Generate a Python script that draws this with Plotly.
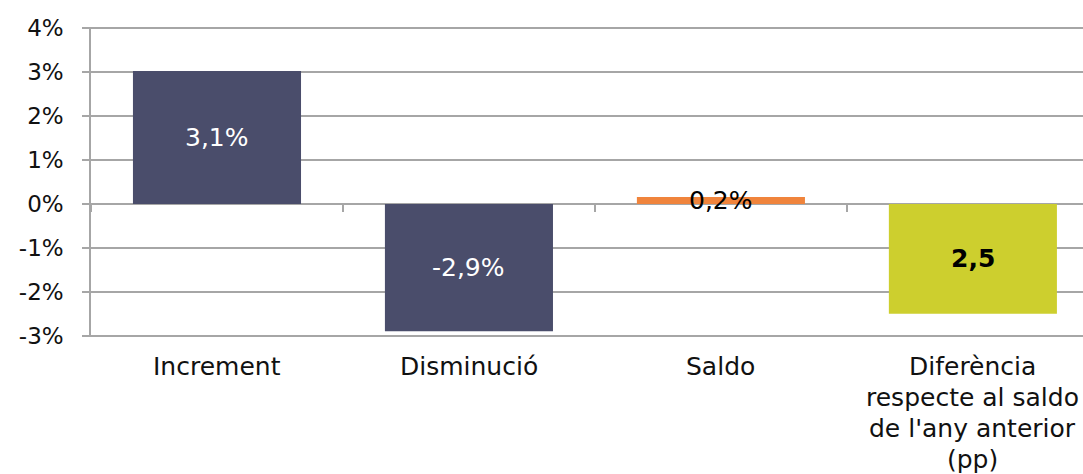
import plotly.graph_objects as go

categories = ["Increment", "Disminució", "Saldo",
              "Diferència<br>respecte al saldo<br>de l'any anterior<br>(pp)"]
values = [3.03, -2.9, 0.16, -2.5]
bar_labels = ["3,1%", "-2,9%", "0,2%", "2,5"]
bar_colors = ["#4a4d6b", "#4a4d6b", "#f0843c", "#cdcf2e"]
label_colors = ["white", "white", "black", "black"]
label_bold = [False, False, False, True]
y_tickvals = [-3, -2, -1, 0, 1, 2, 3, 4]
y_ticktext = ["-3%", "-2%", "-1%", "0%", "1%", "2%", "3%", "4%"]

FONT = "DejaVu Sans"
FS = 25
FS_TICK = 23
GRID = "#a6a6a6"
YMIN, YMAX = -3.03, 4.03

fig = go.Figure()
fig.add_trace(go.Bar(
    x=list(range(len(categories))), y=values,
    marker=dict(color=bar_colors, line=dict(width=0)),
    width=0.667, hoverinfo="skip", showlegend=False,
))

annotations = []
for i, (v, lab, col, b) in enumerate(zip(values, bar_labels, label_colors, label_bold)):
    annotations.append(dict(
        x=i, y=v / 2, xref="x", yref="y",
        text=f"<b>{lab}</b>" if b else lab, showarrow=False,
        font=dict(family=FONT, size=FS, color=col),
        xanchor="center", yanchor="middle",
    ))
for i, cat in enumerate(categories):
    for j, line in enumerate(cat.split("<br>")):
        annotations.append(dict(
            x=i, y=0, xref="x", yref="paper",
            text=line, showarrow=False,
            font=dict(family=FONT, size=FS, color="#111111"),
            xanchor="center", yanchor="middle",
            yshift=-(29 + 31 * j),
        ))

fig.update_layout(
    width=1083, height=474,
    margin=dict(l=91, r=0, t=27, b=137, autoexpand=False),
    paper_bgcolor="white", plot_bgcolor="white",
    font=dict(family=FONT, size=FS, color="#111111"),
    annotations=annotations,
    xaxis=dict(
        type="linear", range=[-0.5, 3.437],
        tickvals=[k + 0.5 for k in range(-1, len(categories))],
        showticklabels=False, ticks="outside", ticklen=7, tickwidth=2,
        tickcolor=GRID, showgrid=False, zeroline=False,
        showline=False,
        anchor="free", position=(0 - YMIN) / (YMAX - YMIN),
    ),
    yaxis=dict(
        range=[YMIN, YMAX], tickvals=y_tickvals, ticktext=y_ticktext,
        ticks="outside", ticklen=7, tickwidth=1.5, tickcolor=GRID,
        ticklabelstandoff=14,
        showgrid=True, gridcolor=GRID, gridwidth=1.5,
        zeroline=False, showline=True, linecolor=GRID, linewidth=1.5,
        tickfont=dict(family=FONT, size=FS_TICK, color="#111111"),
    ),
)

fig.write_html(
    "out.html",
    config={"displayModeBar": False},
    post_script="document.body.style.margin='0';document.body.style.overflow='hidden';",
)
